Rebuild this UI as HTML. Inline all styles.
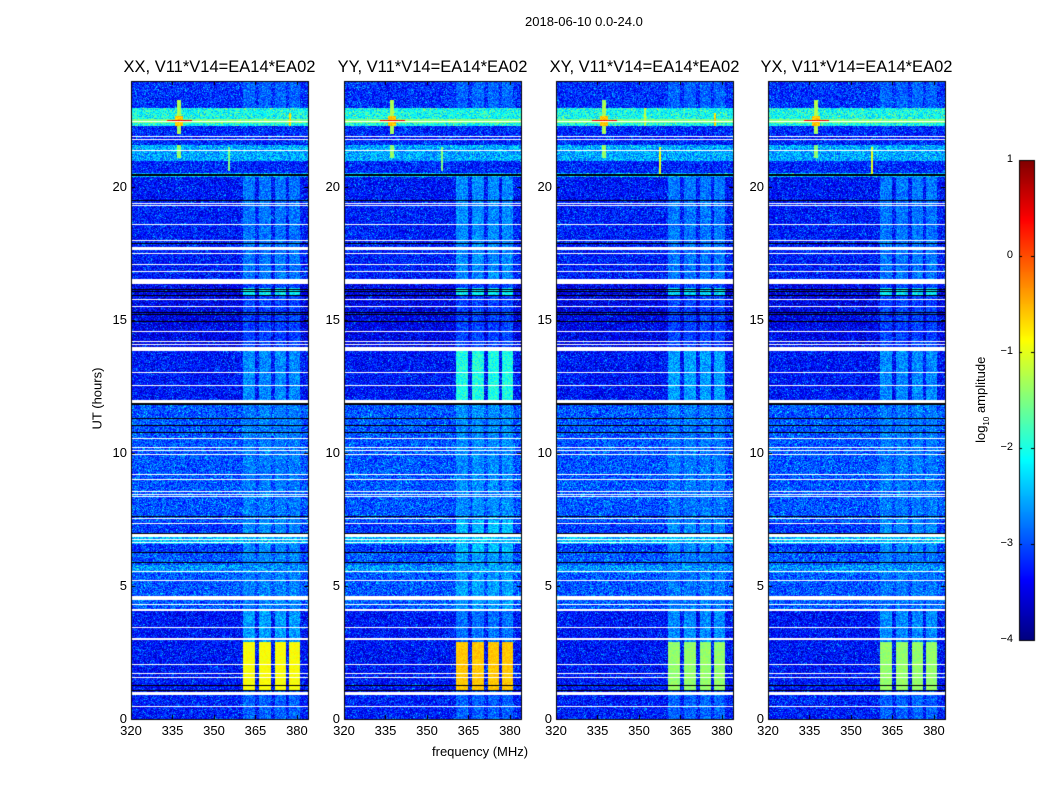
<!DOCTYPE html>
<html><head><meta charset="utf-8">
<style>
body{margin:0;background:#fff;width:1050px;height:800px;overflow:hidden;font-family:"Liberation Sans",sans-serif;}
#root{position:relative;width:1050px;height:800px;}
.t{position:absolute;white-space:nowrap;color:#000;}
canvas{position:absolute;}
</style></head>
<body>
<div id="root">
<div class="t" style="left:525px;top:14px;font-size:13px;">2018-06-10 0.0-24.0</div>
<canvas id="cv" width="1050" height="800" style="left:0;top:0"></canvas>
<div class="t" style="left:432px;top:744px;font-size:13px;">frequency (MHz)</div>
<div class="t" style="left:61px;top:391px;font-size:13px;transform:rotate(-90deg);transform-origin:center;width:72px;text-align:center;">UT (hours)</div>
<div class="t" style="left:932px;top:391px;font-size:13px;transform:rotate(-90deg);width:100px;text-align:center;">log<sub style="font-size:8px">10</sub> amplitude</div>
<div id="labels"></div>
</div>
<script>
// ---- data ----
const panelNames = ['XX, V11*V14=EA14*EA02','YY, V11*V14=EA14*EA02','XY, V11*V14=EA14*EA02','YX, V11*V14=EA14*EA02'];
const panelLeft = [131,344,556,768];
const xTicks = [320,335,350,365,380];
const yTicks = [0,5,10,15,20];
const cbTicks = [1,0,-1,-2,-3,-4];
// background level per time segment [t0,t1,log10 amp]
const bgSegments = [[0,1,-3.3],[1,3,-3.35],[3,4.05,-3.35],[4.05,6.3,-3.0],[5.5,5.8,-2.7],[6.3,7.4,-3.15],[6.6,6.9,-2.5],[7.4,11.85,-3.0],[11.85,14,-3.35],[14,16.4,-3.5],[16.4,19.5,-3.3],[19.5,20.5,-3.35],[20.4,20.55,-2.5],[20.55,21.0,-3.25],[21.0,21.6,-2.6],[21.6,22.3,-3.25],[22.3,23.0,-2.1],[23.0,24,-3.2]];
// frequency bands [f0,f1]
const bandEdges = [[360.6,364.8],[366.4,370.5],[371.9,375.9],[377,381]];
// band level per segment: [t0,t1,XX,YY,XY,YX]
const bandLevels = [[0,1.05,-2.9,-2.9,-2.9,-2.9],[1.1,2.9,-0.9,-0.6,-1.4,-1.4],[2.9,4.05,-2.6,-2.8,-2.7,-2.7],[4.05,6.3,-2.75,-2.6,-2.8,-2.8],[6.3,7.5,-2.7,-2.45,-2.7,-2.7],[7.5,11.85,-2.8,-2.7,-2.8,-2.8],[11.85,14,-2.7,-2.0,-2.6,-2.7],[14,16.4,-3.05,-3.05,-3.05,-3.05],[15.9,16.2,-2.2,-2.2,-2.3,-2.2],[16.4,20.5,-2.8,-2.7,-2.8,-2.8],[23,24,-2.9,-2.9,-2.9,-2.9]];
// RFI features [f0,f1,t0,t1,level]
const rfiFeatures = [[320,384,22.42,22.58,-1.5],[333,342,22.45,22.55,0.4],[336.6,338,22.0,23.3,-1.3],[335.8,338.8,22.3,22.7,-0.6],[336.6,338,21.1,21.6,-1.4],[355,355.8,20.6,21.5,-1.5],[357.2,358,20.5,21.5,-1.0],[352,352.6,22.3,23.0,-1.2],[377,377.7,22.3,22.8,-0.7]];
const rfiPanels = [[1,1,1,1,1,1,0,0,1],[1,1,1,1,1,1,0,0,0],[1,1,1,1,1,0,1,1,1],[1,1,1,1,1,0,1,0,0]];
// flagged (white) intervals [t0,t1]
const whiteFlags = [[0.44,0.48],[0.9,1.02],[1.53,1.57],[1.68,1.72],[2.02,2.06],[2.96,3.06],[3.41,3.45],[4.05,4.14],[4.28,4.32],[4.49,4.64],[5.18,5.22],[5.53,5.57],[6.62,6.66],[6.73,6.77],[6.85,6.95],[7.33,7.37],[7.53,7.57],[8.34,8.38],[8.43,8.47],[8.53,8.57],[8.98,9.02],[9.17,9.21],[9.92,9.96],[10.08,10.12],[10.2,10.24],[10.53,10.57],[11.9,11.99],[12.53,12.57],[13.01,13.05],[13.86,14.0],[14.08,14.12],[14.18,14.22],[14.55,14.59],[15.48,15.52],[15.75,15.79],[16.37,16.55],[16.83,16.87],[17.06,17.1],[17.48,17.52],[17.66,17.74],[17.98,18.02],[18.58,18.62],[19.3,19.34],[19.38,19.42],[21.38,21.42],[21.78,21.82],[21.88,21.92],[22.45,22.49]];
// dark (black) lines [t0,t1]
const blackFlags = [[1.05,1.08],[1.25,1.29],[5.88,5.92],[6.25,6.29],[6.95,6.99],[7.58,7.62],[10.74,10.78],[11.03,11.07],[11.28,11.32],[11.83,11.87],[14.95,14.99],[15.18,15.22],[15.28,15.32],[15.92,15.96],[16.05,16.09],[16.15,16.19],[17.88,17.92],[19.47,19.53],[20.43,20.5]];

// ---- axes ----
const top0=81, bot0=719, pw=177, fMin=320, fMax=384, tMax=24;
const cbX=1019, cbW=15, cbTop=160, cbBot=640;
const yOf = t => bot0 - (t/tMax)*(bot0-top0);
const xOf = (p,f) => panelLeft[p] + (f-fMin)/(fMax-fMin)*pw;
const cbY = v => cbBot - (v+4)/5*(cbBot-cbTop);
function jet(v){const t=Math.max(0,Math.min(1,(v+4)/5));const c=x=>Math.max(0,Math.min(1,1.5-Math.abs(4*t-x)));return [c(3)*255,c(2)*255,c(1)*255];}
function hash(a,b){let h=(a*374761393+b*668265263)|0;h=(h^(h>>>13))*1274126177|0;return ((h^(h>>>16))>>>0)/4294967295;}
function inAny(list,t){for(const s of list) if(t>=s[0]&&t<s[1]) return true;return false;}

const cv=document.getElementById('cv'),ctx=cv.getContext('2d');
const img=ctx.createImageData(1050,800);
for(let p=0;p<4;p++){
  for(let py=top0;py<bot0;py++){
    const t=(bot0-py-0.5)/(bot0-top0)*tMax;
    const white=inAny(whiteFlags,t), black=inAny(blackFlags,t);
    let bg=-3.3; for(const s of bgSegments) if(t>=s[0]&&t<s[1]) bg=s[2];
    let bl=null; for(const s of bandLevels) if(t>=s[0]&&t<s[1]) bl=s[2+p];
    for(let px=panelLeft[p];px<panelLeft[p]+pw;px++){
      const f=fMin+(px-panelLeft[p]+0.5)/pw*(fMax-fMin);
      let rgb;
      if(white) rgb=[255,255,255];
      else if(black) rgb=[0,0,0];
      else{
        const n=hash(px,py), n2=hash(py,px+7);
        let v=bg+(n-0.5)*0.9+(n2>0.9?0.5:0);
        if(bl!==null) for(const b of bandEdges) if(f>=b[0]&&f<b[1]) v=Math.max(v,bl+(n-0.5)*(bl>-1.6?0.25:0.7));
        rfiFeatures.forEach((r,i)=>{ if(rfiPanels[p][i]&&f>=r[0]&&f<r[1]&&t>=r[2]&&t<r[3]) v=Math.max(v,r[4]+(n-0.5)*0.4); });
        rgb=jet(v);
      }
      const k=(py*1050+px)*4; img.data[k]=rgb[0];img.data[k+1]=rgb[1];img.data[k+2]=rgb[2];img.data[k+3]=255;
    }
  }
}
for(let py=cbTop;py<cbBot;py++){const v=1-(py-cbTop+0.5)/(cbBot-cbTop)*5;const rgb=jet(v);
  for(let px=cbX;px<cbX+cbW;px++){const k=(py*1050+px)*4;img.data[k]=rgb[0];img.data[k+1]=rgb[1];img.data[k+2]=rgb[2];img.data[k+3]=255;}}
ctx.putImageData(img,0,0);
ctx.strokeStyle='#000';ctx.lineWidth=1;
for(let p=0;p<4;p++){
  ctx.strokeRect(panelLeft[p]+0.5,top0+0.5,pw,bot0-top0);
  for(const f of xTicks){const x=Math.round(xOf(p,f))+0.5;ctx.beginPath();ctx.moveTo(x,bot0);ctx.lineTo(x,bot0-4);ctx.moveTo(x,top0);ctx.lineTo(x,top0+4);ctx.stroke();}
  for(const t of yTicks){const y=Math.round(yOf(t))+0.5;ctx.beginPath();ctx.moveTo(panelLeft[p],y);ctx.lineTo(panelLeft[p]+4,y);ctx.moveTo(panelLeft[p]+pw,y);ctx.lineTo(panelLeft[p]+pw-4,y);ctx.stroke();}
}
ctx.strokeRect(cbX+0.5,cbTop+0.5,cbW,cbBot-cbTop);
for(const v of cbTicks){const y=Math.round(cbY(v))+0.5;ctx.beginPath();ctx.moveTo(cbX,y);ctx.lineTo(cbX+3,y);ctx.moveTo(cbX+cbW,y);ctx.lineTo(cbX+cbW-3,y);ctx.stroke();}

const L=document.getElementById('labels');
function lab(txt,x,y,size,align,name){const d=document.createElement('div');d.className='t';d.textContent=txt;d.style.fontSize=size+'px';d.style.top=y+'px';
  if(align==='c'){d.style.left=(x-110)+'px';d.style.width='220px';d.style.textAlign='center';}
  else {d.style.left=(x-100)+'px';d.style.width='100px';d.style.textAlign='right';}
  
  
  L.appendChild(d);}
for(let p=0;p<4;p++){
  lab(panelNames[p],panelLeft[p]+pw/2,58,16.5,'c','panel-title');
  for(const f of xTicks) lab(String(f),xOf(p,f),723,13,'c','x-tick-label');
  for(const t of yTicks) lab(String(t),panelLeft[p]-4,yOf(t)-8,13,'r','y-tick-label');
}
for(const v of cbTicks) lab(v<0?'\u2212'+(-v):String(v),cbX-6,cbY(v)-7,11,'r','colorbar-tick-label');
</script>
</body></html>
